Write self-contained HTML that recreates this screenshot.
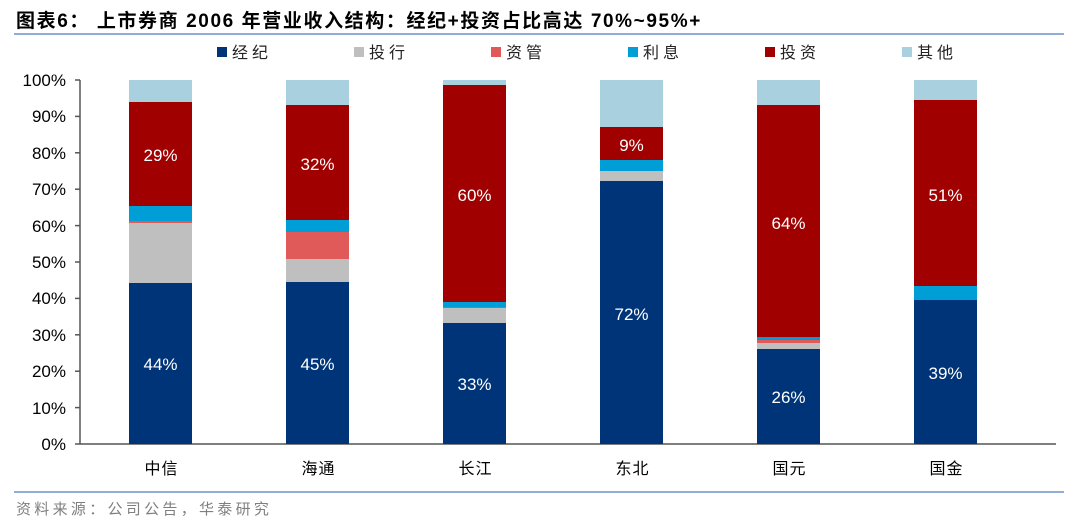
<!DOCTYPE html>
<html><head><meta charset="utf-8"><style>
body{margin:0;background:#fff;}
svg text{font-family:"Liberation Sans","Noto Sans CJK SC",sans-serif;}
</style></head><body>
<svg width="1080" height="527" xmlns="http://www.w3.org/2000/svg">
<text x="16" y="27" font-size="19" font-weight="bold" fill="#000" letter-spacing="1.6">图表6：  上市券商 2006 年营业收入结构：经纪+投资占比高达 70%~95%+</text>
<line x1="14" y1="34" x2="1064" y2="34" stroke="#6a93c8" stroke-width="1.5"/>
<g font-size="16" fill="#222" letter-spacing="4">
<rect x="217" y="47" width="10" height="10" fill="#003478"/><text x="232" y="58">经纪</text>
<rect x="354" y="47" width="10" height="10" fill="#bfbfbf"/><text x="369" y="58">投行</text>
<rect x="491" y="47" width="10" height="10" fill="#e05a5a"/><text x="506" y="58">资管</text>
<rect x="628" y="47" width="10" height="10" fill="#009ed6"/><text x="643" y="58">利息</text>
<rect x="765" y="47" width="10" height="10" fill="#a00000"/><text x="780" y="58">投资</text>
<rect x="902" y="47" width="10" height="10" fill="#a9d0de"/><text x="917" y="58">其他</text>
</g>
<g font-size="17" fill="#000" text-anchor="end">
<text x="66" y="86">100%</text><text x="66" y="122">90%</text><text x="66" y="159">80%</text><text x="66" y="195">70%</text><text x="66" y="232">60%</text><text x="66" y="268">50%</text><text x="66" y="304">40%</text><text x="66" y="341">30%</text><text x="66" y="377">20%</text><text x="66" y="414">10%</text><text x="66" y="450">0%</text>
</g>
<g stroke="#555" stroke-width="1.5">
<line x1="80" y1="80" x2="80" y2="444"/>
<line x1="80" y1="444" x2="1056" y2="444"/>
<line x1="75" y1="80" x2="80" y2="80"/><line x1="75" y1="116.4" x2="80" y2="116.4"/><line x1="75" y1="152.8" x2="80" y2="152.8"/><line x1="75" y1="189.2" x2="80" y2="189.2"/><line x1="75" y1="225.6" x2="80" y2="225.6"/><line x1="75" y1="262" x2="80" y2="262"/><line x1="75" y1="298.4" x2="80" y2="298.4"/><line x1="75" y1="334.8" x2="80" y2="334.8"/><line x1="75" y1="371.2" x2="80" y2="371.2"/><line x1="75" y1="407.6" x2="80" y2="407.6"/><line x1="75" y1="444" x2="80" y2="444"/>
</g>
<rect x="129" y="80" width="63" height="22" fill="#a9d0de"/>
<rect x="129" y="102" width="63" height="104" fill="#a00000"/>
<rect x="129" y="206" width="63" height="15" fill="#009ed6"/>
<rect x="129" y="221" width="63" height="2" fill="#e05a5a"/>
<rect x="129" y="223" width="63" height="60" fill="#bfbfbf"/>
<rect x="129" y="283" width="63" height="161" fill="#003478"/>
<rect x="286" y="80" width="63" height="25" fill="#a9d0de"/>
<rect x="286" y="105" width="63" height="115" fill="#a00000"/>
<rect x="286" y="220" width="63" height="12" fill="#009ed6"/>
<rect x="286" y="232" width="63" height="27" fill="#e05a5a"/>
<rect x="286" y="259" width="63" height="23" fill="#bfbfbf"/>
<rect x="286" y="282" width="63" height="162" fill="#003478"/>
<rect x="443" y="80" width="63" height="5" fill="#a9d0de"/>
<rect x="443" y="85" width="63" height="217" fill="#a00000"/>
<rect x="443" y="302" width="63" height="5" fill="#009ed6"/>
<rect x="443" y="307" width="63" height="1" fill="#e05a5a"/>
<rect x="443" y="308" width="63" height="15" fill="#bfbfbf"/>
<rect x="443" y="323" width="63" height="121" fill="#003478"/>
<rect x="600" y="80" width="63" height="47" fill="#a9d0de"/>
<rect x="600" y="127" width="63" height="33" fill="#a00000"/>
<rect x="600" y="160" width="63" height="11" fill="#009ed6"/>
<rect x="600" y="171" width="63" height="10" fill="#bfbfbf"/>
<rect x="600" y="181" width="63" height="263" fill="#003478"/>
<rect x="757" y="80" width="63" height="25" fill="#a9d0de"/>
<rect x="757" y="105" width="63" height="232" fill="#a00000"/>
<rect x="757" y="337" width="63" height="3" fill="#009ed6"/>
<rect x="757" y="340" width="63" height="3" fill="#e05a5a"/>
<rect x="757" y="343" width="63" height="6" fill="#bfbfbf"/>
<rect x="757" y="349" width="63" height="95" fill="#003478"/>
<rect x="914" y="80" width="63" height="20" fill="#a9d0de"/>
<rect x="914" y="100" width="63" height="186" fill="#a00000"/>
<rect x="914" y="286" width="63" height="14" fill="#009ed6"/>
<rect x="914" y="300" width="63" height="144" fill="#003478"/>
<g font-size="17" fill="#fff" text-anchor="middle">
<text x="160.5" y="161">29%</text><text x="160.5" y="370">44%</text>
<text x="317.5" y="170">32%</text><text x="317.5" y="370">45%</text>
<text x="474.5" y="201">60%</text><text x="474.5" y="390">33%</text>
<text x="631.5" y="151">9%</text><text x="631.5" y="320">72%</text>
<text x="788.5" y="229">64%</text><text x="788.5" y="403">26%</text>
<text x="945.5" y="201">51%</text><text x="945.5" y="379">39%</text>
</g>
<g font-size="16" fill="#000" text-anchor="middle" letter-spacing="1">
<text x="161.5" y="474">中信</text><text x="318.5" y="474">海通</text><text x="475.5" y="474">长江</text><text x="632.5" y="474">东北</text><text x="789.5" y="474">国元</text><text x="946.5" y="474">国金</text>
</g>
<line x1="14" y1="492" x2="1064" y2="492" stroke="#6a93c8" stroke-width="1.5"/>
<text x="16" y="514" font-size="15" fill="#7f7f7f" letter-spacing="3.3">资料来源：公司公告，华泰研究</text>
</svg>
</body></html>
